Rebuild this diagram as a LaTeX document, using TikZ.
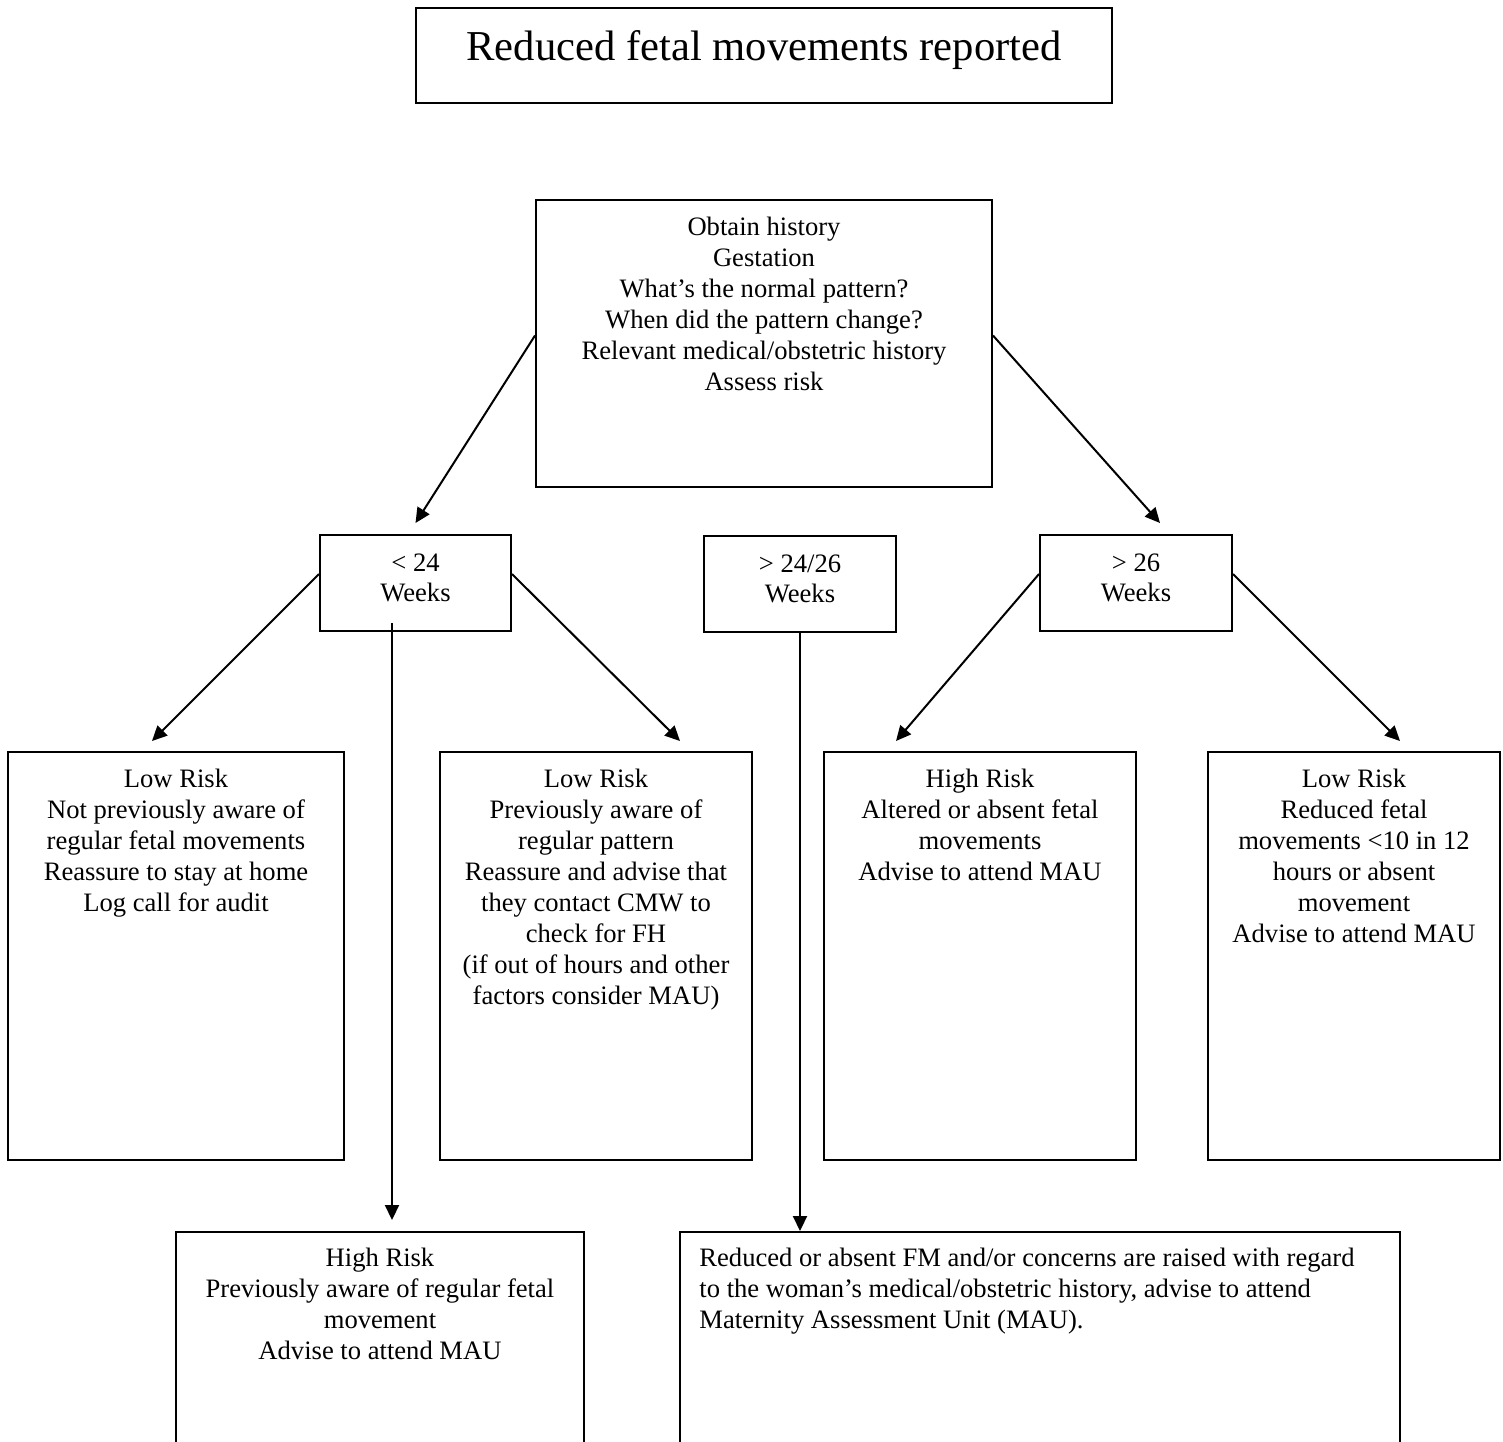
\documentclass[tikz,border=0pt]{standalone}
\usepackage{fontspec}
\setmainfont{Liberation Serif}
\usetikzlibrary{arrows.meta,calc,fit}

\tikzset{
    box/.style={draw, line width=1pt, inner sep=0pt},
    boxtext/.style={anchor=north, align=center, inner sep=0pt, font=\fontsize{13.3}{15.45}\selectfont},
    flow/.style={line width=1pt, -{Triangle[length=7.5pt,width=7pt]}}
}

\begin{document}
\begin{tikzpicture}[x=0.5pt, y=-0.5pt]

    \useasboundingbox (0,0) rectangle (1503,1441);

    \clip (0,0) rectangle (1503,1441);


    \node (report) [box, fit={(416,8) (1112,103)}] {};

    \node (reporttext) [anchor=base, inner sep=0pt, font=\fontsize{21.3}{25}\selectfont] at ($(report.north)+(0,53)$) {Reduced fetal movements reported};


    \node (history) [box, fit={(536,200) (992,487)}] {};

    \node (historytext) [boxtext] at ($(history.north)+(0,18)$) {Obtain history\\Gestation\\What’s the normal pattern?\\When did the pattern change?\\Relevant medical/obstetric history\\Assess risk};


    \node (lt24) [box, fit={(320,535) (511,631)}] {};

    \node (lt24text) [boxtext] at ($(lt24.north)+(0,19)$) {< 24\\Weeks};


    \node (midgest) [box, fit={(704,536) (896,632)}] {};

    \node (midgesttext) [boxtext] at ($(midgest.north)+(0,19)$) {> 24/26\\Weeks};


    \node (gt26) [box, fit={(1040,535) (1232,631)}] {};

    \node (gt26text) [boxtext] at ($(gt26.north)+(0,19)$) {> 26\\Weeks};


    \node (lowa) [box, fit={(8,752) (344,1160)}] {};

    \node (lowatext) [boxtext] at ($(lowa.north)+(0,18)$) {Low Risk\\Not previously aware of\\regular fetal movements\\Reassure to stay at home\\Log call for audit};


    \node (lowb) [box, fit={(440,752) (752,1160)}] {};

    \node (lowbtext) [boxtext] at ($(lowb.north)+(0,18)$) {Low Risk\\Previously aware of\\regular pattern\\Reassure and advise that\\they contact CMW to\\check for FH\\(if out of hours and other\\factors consider MAU)};


    \node (higha) [box, fit={(824,752) (1136,1160)}] {};

    \node (highatext) [boxtext] at ($(higha.north)+(0,18)$) {High Risk\\Altered or absent fetal\\movements\\Advise to attend MAU};


    \node (lowc) [box, fit={(1208,752) (1500,1160)}] {};

    \node (lowctext) [boxtext] at ($(lowc.north)+(0,18)$) {Low Risk\\Reduced fetal\\movements <10 in 12\\hours or absent\\movement\\Advise to attend MAU};


    \node (highb) [box, fit={(176,1232) (584,1480)}] {};

    \node (highbtext) [boxtext] at ($(highb.north)+(0,17)$) {High Risk\\Previously aware of regular fetal\\movement\\Advise to attend MAU};


    \node (unit) [box, fit={(680,1232) (1400,1480)}] {};

    \node (unittext) [boxtext, anchor=north west, align=left] at ($(unit.north west)+(20,17)$) {Reduced or absent FM and/or concerns are raised with regard\\to the woman’s medical/obstetric history, advise to attend\\Maternity Assessment Unit (MAU).};


    \draw[flow] ($(history.west)+(0,-8)$) -- ($(lt24.north)+(0,-11)$);

    \draw[flow] ($(history.east)+(0,-8)$) -- ($(gt26.north)+(24,-11)$);

    \draw[flow] ($(lt24.west)+(0,-9)$) -- ($(lowa.north)+(-24,-10)$);

    \draw[flow] ($(lt24.east)+(0,-9)$) -- ($(lowb.north)+(84,-10)$);

    \draw[flow] ($(gt26.west)+(0,-9)$) -- ($(higha.north)+(-84,-10)$);

    \draw[flow] ($(gt26.east)+(0,-9)$) -- ($(lowc.north)+(46,-10)$);

    \draw[flow] ($(lt24.south)+(-23.5,-9)$) -- ($(highb.north)+(12,-11)$);

    \draw[flow] (midgest.south) -- (midgest.south |- unit.north);

\end{tikzpicture}
\end{document}
